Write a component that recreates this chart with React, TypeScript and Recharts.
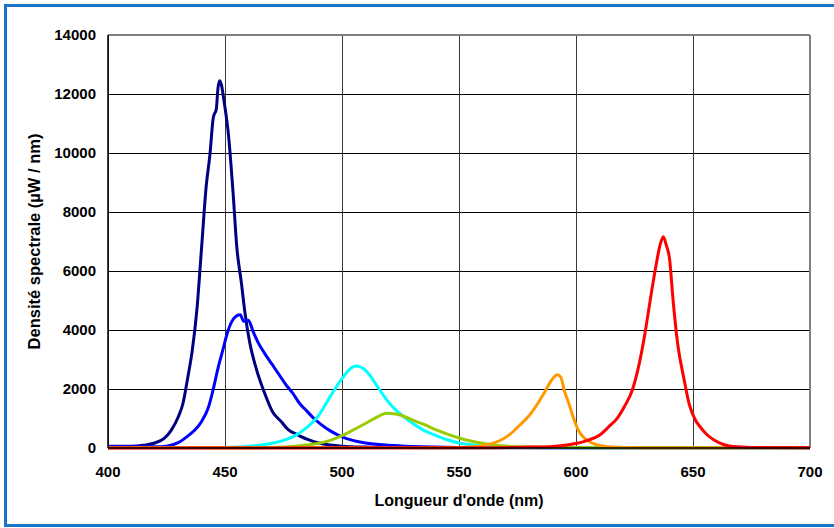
import { CartesianGrid, Line, LineChart, ReferenceLine, XAxis, YAxis } from "recharts";

// wavelength (nm) / spectral density (µW/nm)
const navyNm = [400, 410, 415, 420, 424, 427, 430, 432, 434, 436, 438, 440, 442, 443.5, 445, 446.3, 447, 447.7, 448.5, 449.5, 451.5, 453.5, 455, 457, 458.5, 460.5, 463.5, 466.5, 470.5, 474, 477, 481, 485, 490, 495, 500, 510, 520, 550, 600, 650, 700];
const navyVal = [60, 60, 90, 170, 330, 600, 1050, 1500, 2350, 3300, 4700, 6800, 8900, 9900, 11200, 11500, 12200, 12450, 12300, 11800, 10600, 8600, 6850, 5600, 4600, 3600, 2650, 1950, 1200, 900, 620, 450, 300, 170, 100, 60, 30, 20, 10, 5, 5, 5];

const blueNm = [400, 420, 425, 430, 434, 437, 440, 443, 445, 447, 449, 451, 453, 455, 456.5, 458, 460, 462, 464, 467, 470, 473, 476, 479, 482, 485, 488, 491, 495, 500, 505, 510, 520, 530, 550, 600, 700];
const blueVal = [50, 40, 60, 180, 400, 600, 900, 1400, 2000, 2700, 3300, 3900, 4300, 4480, 4520, 4300, 4330, 3950, 3600, 3200, 2850, 2500, 2150, 1850, 1500, 1250, 1000, 800, 580, 380, 250, 170, 90, 50, 20, 10, 10];

const cyanNm = [400, 450, 460, 465, 470, 475, 480, 485, 490, 495, 500, 503, 506, 509, 512, 515, 518, 521, 525, 530, 535, 540, 545, 550, 555, 560, 570, 580, 600, 700];
const cyanVal = [5, 20, 50, 100, 160, 260, 420, 700, 1100, 1750, 2350, 2650, 2780, 2700, 2450, 2100, 1750, 1450, 1150, 850, 600, 430, 280, 170, 110, 70, 30, 15, 10, 5];

const greenNm = [400, 460, 470, 480, 485, 490, 495, 500, 505, 510, 515, 519, 523, 527, 531, 535, 540, 545, 550, 555, 560, 565, 570, 580, 590, 620, 700];
const greenVal = [5, 10, 20, 60, 100, 160, 260, 420, 620, 830, 1050, 1180, 1150, 1060, 920, 800, 620, 470, 340, 240, 160, 100, 65, 30, 15, 5, 5];

const orangeNm = [400, 540, 550, 556, 560, 564, 568, 572, 576, 580, 584, 587, 590, 592, 593.5, 595, 597, 599, 601, 603, 605, 608, 612, 620, 630, 700];
const orangeVal = [5, 10, 20, 40, 80, 150, 270, 480, 780, 1100, 1550, 1950, 2350, 2480, 2400, 1950, 1500, 1000, 600, 380, 250, 130, 60, 20, 10, 5];

const redNm = [400, 560, 580, 590, 595, 600, 605, 610, 614, 618, 621, 624, 627, 629.5, 631.5, 634, 636, 637.3, 638.5, 640, 641.5, 643.5, 646, 648.5, 651, 653, 656, 659, 663, 667, 675, 700];
const redVal = [0, 10, 30, 50, 90, 150, 260, 430, 720, 1050, 1450, 1950, 2850, 3900, 4900, 6100, 6900, 7160, 6900, 6400, 5000, 3500, 2400, 1450, 950, 720, 450, 270, 120, 50, 20, 10];

const xTicks = [400, 450, 500, 550, 600, 650, 700];
const yTicks = [0, 2000, 4000, 6000, 8000, 10000, 12000, 14000];

const toRows = (nm: number[], val: number[]) => nm.map((x, i) => ({ nm: x, v: val[i] }));

const series = [
  { name: "navy", color: "#000080", rows: toRows(navyNm, navyVal) },
  { name: "blue", color: "#0000ff", rows: toRows(blueNm, blueVal) },
  { name: "cyan", color: "#00ffff", rows: toRows(cyanNm, cyanVal) },
  { name: "green", color: "#99cc00", rows: toRows(greenNm, greenVal) },
  { name: "orange", color: "#ff9900", rows: toRows(orangeNm, orangeVal) },
  { name: "red", color: "#ff0000", rows: toRows(redNm, redVal) },
];

const font = { fontFamily: "'Liberation Sans', Arial, sans-serif", fontSize: 15, fontWeight: 700, fill: "#000" };

export default function App() {
  return (
    <div style={{ position: "absolute", left: 0, top: 0, width: 834, height: 528, background: "#fff", overflow: "hidden" }}>
      <div
        style={{
          position: "absolute",
          left: 4,
          top: 4,
          width: 860,
          height: 523,
          boxSizing: "border-box",
          border: "3px solid #1b73cb",
          borderRight: "none",
        }}
      />
      <div style={{ position: "absolute", left: 0, top: 0 }}>
        <LineChart width={834} height={528} margin={{ top: 35, right: 24, bottom: 0, left: 0 }}>
          <CartesianGrid vertical={false} stroke="#000" shapeRendering="crispEdges" />
          <CartesianGrid horizontal={false} stroke="#3a3a3a" shapeRendering="crispEdges" />
          <ReferenceLine y={14000} stroke="#808080" strokeWidth={2} />
          <ReferenceLine x={700} stroke="#808080" strokeWidth={2} />
          <XAxis
            dataKey="nm"
            type="number"
            domain={[400, 700]}
            ticks={xTicks}
            allowDuplicatedCategory={false}
            height={80}
            tickLine={false}
            tickMargin={12}
            axisLine={{ stroke: "#000", strokeWidth: 1.5 }}
            tick={font}
            label={{ value: "Longueur d'onde (nm)", position: "insideBottom", offset: 22, style: { ...font, fontSize: 16 } }}
          />
          <YAxis
            type="number"
            domain={[0, 14000]}
            ticks={yTicks}
            width={108}
            tickLine={false}
            tickMargin={6}
            axisLine={{ stroke: "#000", strokeWidth: 1.5 }}
            tick={font}
            label={{
              value: "Densité spectrale (µW / nm)",
              angle: -90,
              position: "insideLeft",
              offset: 34,
              style: { ...font, fontSize: 16.5, textAnchor: "middle" },
            }}
          />
          {series.map((s) => (
            <Line
              key={s.name}
              data={s.rows}
              dataKey="v"
              type="monotone"
              stroke={s.color}
              strokeWidth={3}
              dot={false}
              isAnimationActive={false}
            />
          ))}
        </LineChart>
      </div>
    </div>
  );
}
